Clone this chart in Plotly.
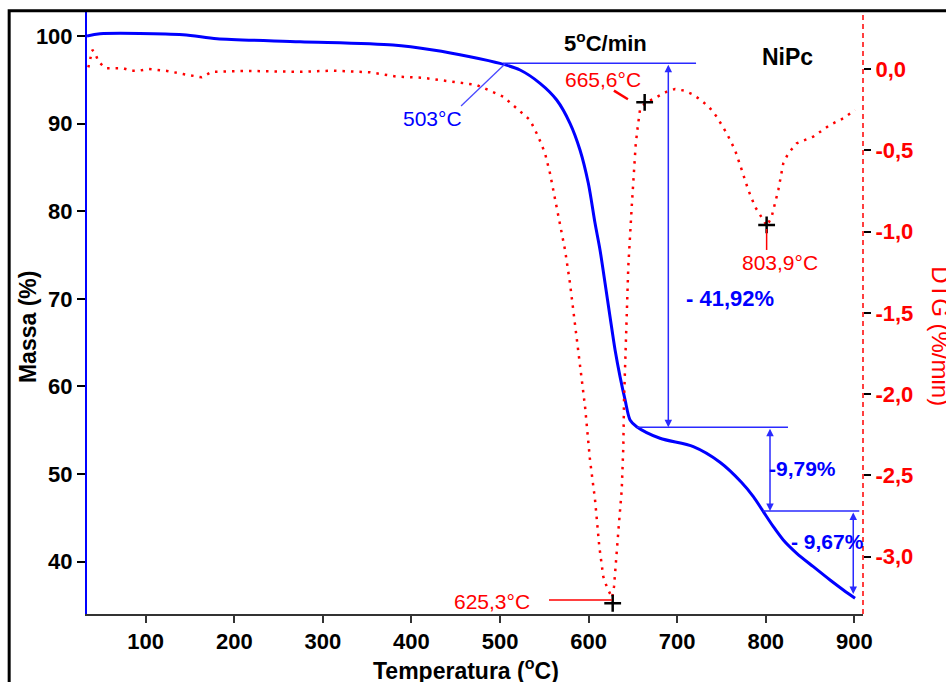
import plotly.graph_objects as go

# ---------------- data ----------------
tg_temp = [33.7, 48.4, 142.1, 180.5, 274.2, 379.2, 424.3, 466.1, 500.0, 522.6,
           545.2, 564.0, 579.0, 590.3, 599.7, 607.3, 612.9, 618.6, 624.2, 629.9,
           635.5, 641.2, 646.8, 654.3, 680.6, 718.2, 748.3, 772.8, 786.0, 797.3,
           808.6, 819.8, 835.0, 853.7, 872.6, 887.6, 900.8]
tg_mass = [100.0, 100.26, 100.15, 99.69, 99.35, 98.97, 98.40, 97.64, 96.88, 96.12,
           94.60, 92.70, 90.04, 86.99, 83.19, 78.62, 75.58, 71.78, 67.96, 64.16,
           61.12, 58.46, 56.18, 55.41, 54.09, 53.13, 51.35, 49.04, 47.42, 45.71,
           44.00, 42.48, 40.96, 39.43, 37.91, 36.77, 35.83]

dtg_temp = [35.2, 37.1, 39.7, 42.8, 46.5, 55.2, 64.5, 74.7, 83.4, 92.8,
            102.9, 113.1, 124.0, 142.1, 163.2, 174.5, 214.0, 274.2, 311.5, 353.2,
            383.4, 413.1, 443.6, 473.7, 503.7, 522.6, 533.9, 543.2, 550.8, 556.4,
            562.1, 567.7, 573.4, 579.0, 584.7, 590.3, 596.0, 601.6, 607.3, 612.1,
            616.6, 620.5, 626.5, 628.7, 631.7, 634.3, 637.4, 639.2, 640.0, 642.2,
            644.8, 648.7, 650.5, 653.2, 655.4, 658.0, 663.7, 677.0, 688.2, 697.6,
            707.7, 717.5, 727.7, 736.3, 744.6, 755.9, 765.3, 772.9, 780.3, 787.9,
            797.3, 801.4, 806.7, 814.2, 819.8, 825.5, 835.0, 853.7, 872.5, 887.6,
            900.8]
dtg_rate = [0.010, 0.062, 0.117, 0.100, 0.045, 0.004, 0.004, 0.004, -0.010, -0.010,
            0.0, -0.006, -0.012, -0.031, -0.051, -0.017, -0.012, -0.017, -0.010, -0.020,
            -0.047, -0.054, -0.078, -0.098, -0.170, -0.263, -0.314, -0.416, -0.518, -0.641,
            -0.806, -0.970, -1.113, -1.318, -1.564, -1.800, -2.077, -2.405, -2.651, -2.938,
            -3.122, -3.184, -3.253, -3.184, -2.999, -2.794, -2.589, -2.323, -2.036, -1.624,
            -1.216, -0.847, -0.683, -0.463, -0.359, -0.252, -0.211, -0.170, -0.140, -0.123,
            -0.133, -0.156, -0.195, -0.236, -0.293, -0.395, -0.498, -0.621, -0.744, -0.847,
            -0.929, -0.966, -0.908, -0.744, -0.580, -0.518, -0.457, -0.416, -0.344, -0.303,
            -0.252]

peak_temp = [627.2, 663.3, 801.0]
peak_rate = [-3.286, -0.205, -0.959]
peak_labels = ["625,3°C", "665,6°C", "803,9°C"]

onset_label = "503°C"

step_levels = [96.88, 55.34, 45.79, 36.31]
step_labels = ["- 41,92%", "-9,79%", "- 9,67%"]

x_ticks = [100, 200, 300, 400, 500, 600, 700, 800, 900]
mass_ticks = [40, 50, 60, 70, 80, 90, 100]
dtg_ticks = [0.0, -0.5, -1.0, -1.5, -2.0, -2.5, -3.0]
dtg_tick_text = ["0,0", "-0,5", "-1,0", "-1,5", "-2,0", "-2,5", "-3,0"]

# ---------------- figure ----------------
FONT = "Arial, Liberation Sans, sans-serif"
BLUE = "#0000ff"
ABLUE = "#2a2aff"
RED = "#ff0000"

fig = go.Figure()
fig.add_trace(go.Scatter(x=tg_temp, y=tg_mass, mode="lines", yaxis="y",
                         line=dict(color=BLUE, width=3, shape="spline", smoothing=0.8),
                         hoverinfo="skip"))
fig.add_trace(go.Scatter(x=dtg_temp, y=dtg_rate, mode="lines", yaxis="y2",
                         line=dict(color=RED, width=2.5, dash="2.5px,6px"),
                         hoverinfo="skip"))
fig.add_trace(go.Scatter(x=peak_temp, y=peak_rate, mode="markers", yaxis="y2",
                         marker=dict(symbol="cross-thin", size=12,
                                     line=dict(width=2.5, color="black")),
                         hoverinfo="skip"))

shapes = []
# outer frame
shapes.append(dict(type="rect", xref="paper", yref="paper", x0=-0.1003, x1=1.3,
                   y0=-0.3, y1=1.0022, line=dict(color="black", width=3)))
# right dashed red axis line
shapes.append(dict(type="line", xref="paper", yref="paper", x0=1, x1=1, y0=0, y1=1,
                   line=dict(color=RED, width=1.5, dash="5px,4px")))
# step level lines
step_x = [(503.4, 721.3), (654.7, 825.1), (796.9, 905.6)]
for (xa, xb), lvl in zip(step_x, step_levels[:3]):
    shapes.append(dict(type="line", xref="x", yref="y", x0=xa, x1=xb, y0=lvl, y1=lvl,
                       line=dict(color=ABLUE, width=1.5)))
# onset leader
shapes.append(dict(type="line", xref="x", yref="y", x0=456.0, x1=505.6, y0=92.01, y1=96.80,
                   line=dict(color="#4a4aff", width=1.3)))
# peak leaders
shapes.append(dict(type="line", xref="x", yref="y2", x0=555.3, x1=626.4, y0=-3.266, y1=-3.266,
                   line=dict(color=RED, width=1.5)))
shapes.append(dict(type="line", xref="x", yref="y2", x0=628.6, x1=644.4, y0=-0.133, y1=-0.186,
                   line=dict(color=RED, width=2.5)))
shapes.append(dict(type="line", xref="x", yref="y2", x0=801.0, x1=801.0, y0=-0.984, y1=-1.113,
                   line=dict(color=RED, width=1.5)))

annotations = []
# double arrows
arrow_x = [690.0, 804.8, 898.8]
for i, ax_ in enumerate(arrow_x):
    annotations.append(dict(x=ax_, y=step_levels[i + 1], ax=ax_, ay=step_levels[i],
                            xref="x", yref="y", axref="x", ayref="y", text="",
                            showarrow=True, arrowhead=2, startarrowhead=2,
                            arrowside="end+start", arrowsize=1, startarrowsize=1,
                            arrowwidth=1.5, arrowcolor=ABLUE))

# step labels
annotations.append(dict(x=759.7, y=70.02, xref="x", yref="y", text=step_labels[0],
                        xanchor="center", yanchor="middle", showarrow=False,
                        font=dict(family=FONT, size=22, color=BLUE, weight="bold")))
annotations.append(dict(x=801.5, y=50.66, xref="x", yref="y", text=step_labels[1],
                        xanchor="left", yanchor="middle", showarrow=False,
                        font=dict(family=FONT, size=21, color=BLUE, weight="bold")))
annotations.append(dict(x=826.0, y=42.29, xref="x", yref="y", text=step_labels[2],
                        xanchor="left", yanchor="middle", showarrow=False,
                        font=dict(family=FONT, size=21, color=BLUE, weight="bold")))

# peak labels
peak_label_pos = [(491.5, -3.276), (616.3, -0.0615), (816.1, -1.187)]
for (lx, ly), txt in zip(peak_label_pos, peak_labels):
    annotations.append(dict(x=lx, y=ly, xref="x", yref="y2", text=txt, showarrow=False,
                            xanchor="center", yanchor="middle",
                            font=dict(family=FONT, size=21, color=RED)))
# onset label
annotations.append(dict(x=423.8, y=90.64, xref="x", yref="y", text=onset_label, showarrow=False,
                        xanchor="center", yanchor="middle",
                        font=dict(family=FONT, size=21, color=BLUE)))
# header texts
annotations.append(dict(x=618.6, y=99.32, xref="x", yref="y", text="5<sup>o</sup>C/min",
                        xanchor="center", yanchor="middle", showarrow=False,
                        font=dict(family=FONT, size=22, color="black", weight="bold")))
annotations.append(dict(x=825.1, y=97.6, xref="x", yref="y", text="NiPc",
                        xanchor="center", yanchor="middle", showarrow=False,
                        font=dict(family=FONT, size=23, color="black", weight="bold")))
# axis titles
annotations.append(dict(x=-0.076, y=0.4767, xref="paper", yref="paper", text="Massa (%)",
                        textangle=-90, showarrow=False, xanchor="center", yanchor="middle",
                        font=dict(family=FONT, size=23, color="black", weight="bold")))
annotations.append(dict(x=0.489, y=-0.091, xref="paper", yref="paper",
                        text="Temperatura (<sup>o</sup>C)", showarrow=False,
                        xanchor="center", yanchor="middle",
                        font=dict(family=FONT, size=23, color="black", weight="bold")))
annotations.append(dict(x=1.099, y=0.4618, xref="paper", yref="paper", text="DTG (%/min)",
                        textangle=90, showarrow=False, xanchor="center", yanchor="middle",
                        font=dict(family=FONT, size=24, color=RED)))

fig.update_layout(
    width=946, height=682,
    margin=dict(l=87, r=83, t=12, b=68),
    paper_bgcolor="white", plot_bgcolor="white",
    showlegend=False,
    xaxis=dict(range=[33.7, 909.8], tickvals=x_ticks, ticks="outside", ticklen=7,
               tickwidth=1.5, tickcolor="#333", showline=True, linecolor="#333", linewidth=2,
               showgrid=False, zeroline=False,
               tickfont=dict(family=FONT, size=22, color="black", weight="bold")),
    yaxis=dict(range=[34.03, 102.74], tickvals=mass_ticks, ticks="outside", ticklen=8,
               tickwidth=1.5, tickcolor="black", showline=True, linecolor=BLUE, linewidth=2,
               showgrid=False, zeroline=False,
               tickfont=dict(family=FONT, size=22, color="black", weight="bold")),
    yaxis2=dict(range=[-3.352, 0.3506], overlaying="y", side="right", tickvals=dtg_ticks,
                ticktext=dtg_tick_text, ticks="outside", ticklen=7, tickwidth=1.5,
                tickcolor="black", showline=False, showgrid=False, zeroline=False,
                tickfont=dict(family=FONT, size=22, color=RED, weight="bold")),
    shapes=shapes,
    annotations=annotations,
)

fig.write_html("out.html", config={"displayModeBar": False},
               post_script="document.body.style.margin='0';document.body.style.overflow='hidden';")
